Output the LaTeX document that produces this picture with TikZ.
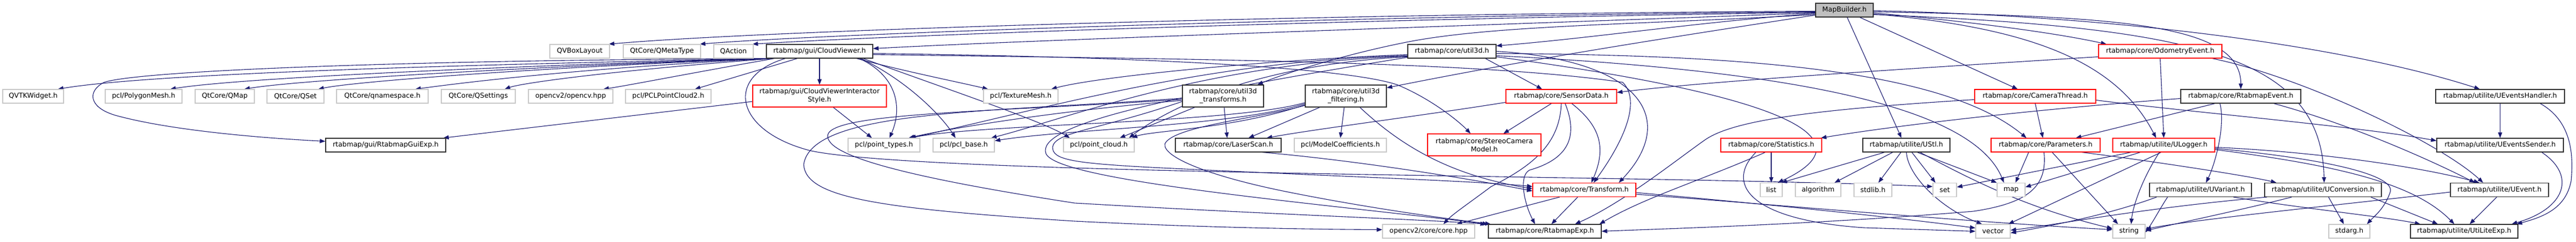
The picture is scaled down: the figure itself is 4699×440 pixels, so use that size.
\documentclass[tikz,border=0pt]{standalone}
\usepackage{fontspec}
\setmainfont{DejaVu Sans}
\usetikzlibrary{arrows.meta}
\definecolor{edgec}{HTML}{191970}
\definecolor{greyb}{HTML}{C8C8C8}
\definecolor{mbfill}{HTML}{BFBFBF}
\newcommand{\nfont}{\fontsize{12.4}{15}\selectfont}
\pgfdeclarelayer{bg}
\pgfsetlayers{bg,main}
\tikzset{
 box/.style={draw, fill=white, line width=1.2pt, minimum height=25pt, inner sep=0pt, text=black, font=\nfont, align=center},
 gbox/.style={box, draw=greyb},
 bbox/.style={box, draw=black!80},
 rbox/.style={box, draw=red},
 tall/.style={minimum height=40pt},
 e/.style={draw=edgec, line width=1.1pt, -{Triangle[length=10pt,width=7.5pt]}}
}
\begin{document}
\begin{tikzpicture}[x=1pt,y=-1pt]
\useasboundingbox (0,0) rectangle (4699,440);
% row 0
\node[bbox,fill=mbfill,minimum width=105pt] (mb) at (3364.5,18.5) {MapBuilder.h};
% row 1
\node[gbox,minimum width=109pt] (qvbox) at (1057.5,93.5) {QVBoxLayout};
\node[gbox,minimum width=141pt] (qmeta) at (1207.5,93.5) {QtCore/QMetaType};
\node[gbox,minimum width=72pt] (qaction) at (1338,93.5) {QAction};
\node[bbox,minimum width=194pt] (cv) at (1495,93.5) {rtabmap/gui/CloudViewer.h};
\node[bbox,minimum width=161pt] (u3d) at (2648.5,93.5) {rtabmap/core/util3d.h};
\node[rbox,minimum width=225pt] (odom) at (3940.5,93.5) {rtabmap/core/OdometryEvent.h};
% row 2
\node[gbox,minimum width=111pt] (qvtk) at (60.5,175.5) {QVTKWidget.h};
\node[gbox,minimum width=140pt] (poly) at (262,175.5) {pcl/PolygonMesh.h};
\node[gbox,minimum width=108pt] (qmap) at (410,175.5) {QtCore/QMap};
\node[gbox,minimum width=104pt] (qset) at (539,175.5) {QtCore/QSet};
\node[gbox,minimum width=167pt] (qns) at (697.5,175.5) {QtCore/qnamespace.h};
\node[gbox,minimum width=135pt] (qsettings) at (872.5,175.5) {QtCore/QSettings};
\node[gbox,minimum width=154pt] (opencv) at (1041,175.5) {opencv2/opencv.hpp};
\node[gbox,minimum width=156pt] (pclpc2) at (1219,175.5) {pcl/PCLPointCloud2.h};
\node[rbox,tall,minimum width=244pt] (cvis) at (1495,175) {rtabmap/gui/CloudViewerInteractor\\Style.h};
\node[gbox,minimum width=136pt] (tmesh) at (1862,175.5) {pcl/TextureMesh.h};
\node[bbox,tall,minimum width=148pt] (u3dt) at (2231,175) {rtabmap/core/util3d\\\_transforms.h};
\node[bbox,tall,minimum width=148pt] (u3df) at (2455,175) {rtabmap/core/util3d\\\_filtering.h};
\node[rbox,minimum width=202pt] (sensor) at (2848,175.5) {rtabmap/core/SensorData.h};
\node[rbox,minimum width=221pt] (camth) at (3712.5,175.5) {rtabmap/core/CameraThread.h};
\node[bbox,minimum width=219pt] (rtev) at (4087.5,175.5) {rtabmap/core/RtabmapEvent.h};
\node[bbox,minimum width=235pt] (uevh) at (4560.5,175.5) {rtabmap/utilite/UEventsHandler.h};
% row 3
\node[bbox,minimum width=219pt] (guiexp) at (703.5,264.5) {rtabmap/gui/RtabmapGuiExp.h};
\node[gbox,minimum width=131pt] (ptypes) at (1612.5,264.5) {pcl/point\_types.h};
\node[gbox,minimum width=112pt] (pclbase) at (1758,264.5) {pcl/pcl\_base.h};
\node[gbox,minimum width=129pt] (pcloud) at (2004.5,264.5) {pcl/point\_cloud.h};
\node[bbox,minimum width=193pt] (laser) at (2240.5,264.5) {rtabmap/core/LaserScan.h};
\node[gbox,minimum width=168pt] (modelc) at (2445,264.5) {pcl/ModelCoefficients.h};
\node[rbox,tall,minimum width=207pt] (stereo) at (2707.5,264) {rtabmap/core/StereoCamera\\Model.h};
\node[rbox,minimum width=184pt] (stats) at (3231,264.5) {rtabmap/core/Statistics.h};
\node[bbox,minimum width=159pt] (ustl) at (3477.5,264.5) {rtabmap/utilite/UStl.h};
\node[rbox,minimum width=199pt] (params) at (3731.5,264.5) {rtabmap/core/Parameters.h};
\node[rbox,minimum width=186pt] (ulog) at (3947,264.5) {rtabmap/utilite/ULogger.h};
\node[bbox,minimum width=231pt] (uevs) at (4560.5,264.5) {rtabmap/utilite/UEventsSender.h};
% row 4
\node[rbox,minimum width=188pt] (transform) at (2890,346) {rtabmap/core/Transform.h};
\node[gbox,minimum width=40pt] (list) at (3231,346) {list};
\node[gbox,minimum width=83pt] (algorithm) at (3316.5,346) {algorithm};
\node[gbox,minimum width=69pt] (stdlib) at (3416.5,346) {stdlib.h};
\node[gbox,minimum width=43pt] (set) at (3547.5,346) {set};
\node[gbox,minimum width=51pt] (map) at (3668.5,346) {map};
\node[bbox,minimum width=186pt] (uvar) at (4014,346) {rtabmap/utilite/UVariant.h};
\node[bbox,minimum width=213pt] (uconv) at (4237.5,346) {rtabmap/utilite/UConversion.h};
\node[bbox,minimum width=179pt] (uevent) at (4559.5,346) {rtabmap/utilite/UEvent.h};
% row 5
\node[gbox,minimum width=168pt] (cvcore) at (2606,421.5) {opencv2/core/core.hpp};
\node[bbox,minimum width=206pt] (rexp) at (2818,421.5) {rtabmap/core/RtabmapExp.h};
\node[gbox,minimum width=63pt] (vector) at (3635.5,421.5) {vector};
\node[gbox,minimum width=59pt] (string) at (3883.5,421.5) {string};
\node[gbox,minimum width=75pt] (stdarg) at (4285.5,421.5) {stdarg.h};
\node[bbox,minimum width=196pt] (utilexp) at (4495,421.5) {rtabmap/utilite/UtiLiteExp.h};

\begin{pgfonlayer}{bg}
% ---- MapBuilder edges
\draw[e] ([yshift=-2pt]mb.west) .. controls (2400,25) and (1400,55) .. ([xshift=-2pt]qvbox.north east);
\draw[e] ([yshift=-3pt]mb.west) .. controls (2400,30) and (1500,62) .. ([xshift=-2pt]qmeta.north east);
\draw[e] ([yshift=-4pt]mb.west) .. controls (2400,36) and (1600,66) .. ([xshift=-2pt]qaction.north east);
\draw[e] ([yshift=-5pt]mb.west) .. controls (2600,50) and (1900,72) .. ([yshift=5pt]cv.east);
\draw[e] ([yshift=-6pt]mb.west) .. controls (3100,40) and (2900,70) .. ([yshift=10pt]u3d.east);
\draw[e] ([yshift=-8pt]mb.west) .. controls (3000,45) and (2720,45) .. (2560,78) .. controls (2450,100) and (2340,135) .. ([xshift=-12pt]u3dt.north east);
\draw[e] ([yshift=-9pt]mb.west) .. controls (3000,75) and (2780,110) .. ([yshift=15pt]u3df.east);
\draw[e] ([xshift=5pt]mb.south) -- ([xshift=-9pt]ustl.north);
\draw[e] ([xshift=28pt]mb.south) -- ([xshift=-32pt]camth.north);
\draw[e] ([yshift=-5pt]mb.east) .. controls (3600,40) and (3750,60) .. ([xshift=15pt]odom.north west);
\draw[e] ([yshift=-3pt]mb.east) .. controls (3850,30) and (4088,40) .. (rtev.north);
\draw[e] ([yshift=-7pt]mb.east) .. controls (3700,50) and (3860,110) .. ([xshift=-14pt]ulog.north);
\draw[e] ([yshift=-8pt]mb.east) .. controls (4000,50) and (4235,100) .. ([xshift=2pt]uconv.north);
\draw[e] ([yshift=-1pt]mb.east) .. controls (3900,30) and (4300,90) .. ([xshift=-37pt]uevh.north);

% ---- CloudViewer edges
\draw[e] ([xshift=2pt]cv.south west) .. controls (1000,115) and (300,130) .. ([xshift=-11pt]qvtk.north east);
\draw[e] ([xshift=4pt]cv.south west) .. controls (1000,118) and (450,140) .. ([xshift=-22pt]poly.north east);
\draw[e] ([xshift=6pt]cv.south west) .. controls (1000,120) and (550,145) .. ([xshift=-19pt]qmap.north east);
\draw[e] ([xshift=8pt]cv.south west) .. controls (1000,122) and (650,148) .. ([xshift=-11pt]qset.north east);
\draw[e] ([xshift=10pt]cv.south west) .. controls (1050,125) and (850,150) .. ([xshift=-24pt]qns.north east);
\draw[e] ([xshift=12pt]cv.south west) .. controls (1100,130) and (950,152) .. ([xshift=-20pt]qsettings.north east);
\draw[e] ([xshift=15pt]cv.south west) .. controls (1250,135) and (1150,155) .. ([xshift=-18pt]opencv.north east);
\draw[e] ([xshift=57pt]cv.south west) -- ([xshift=-30pt]pclpc2.north east);
\draw[e] (cv.south) -- (cvis.north);
\draw[e] ([xshift=-30pt]cv.south east) .. controls (1650,130) and (1750,150) .. ([xshift=9pt]tmesh.north west);
\draw[e] ([xshift=-25pt]cv.south east) .. controls (1640,140) and (1645,200) .. ([xshift=10pt]ptypes.north);
\draw[e] ([xshift=-22pt]cv.south east) .. controls (1660,150) and (1720,215) .. ([xshift=-15pt]pclbase.north);
\draw[e] ([xshift=-18pt]cv.south east) .. controls (1720,160) and (1900,220) .. ([xshift=12pt]pcloud.north west);
\draw[e] ([xshift=1pt]cv.south west) .. controls (700,110) and (250,130) .. (190,150) .. controls (160,165) and (160,195) .. (210,210) .. controls (300,235) and (450,250) .. ([yshift=7pt]guiexp.west);
\draw[e] ([xshift=35pt]cv.south west) .. controls (1320,140) and (1340,240) .. (1480,275) .. controls (1700,320) and (3000,318) .. ([yshift=6pt]set.west);
\draw[e] ([yshift=-4pt]cv.east) .. controls (2200,105) and (2480,130) .. (2550,155) .. controls (2610,180) and (2660,220) .. ([xshift=-25pt]stereo.north);
\draw[e] ([yshift=-6pt]cv.east) .. controls (2200,108) and (2700,112) .. (2960,150) .. controls (2995,185) and (2960,260) .. ([xshift=17pt]transform.north);

% ---- CloudViewerInteractorStyle
\draw[e] ([yshift=-10pt]cvis.west) -- ([xshift=-5pt]guiexp.north east);
\draw[e] ([xshift=25pt]cvis.south) -- ([xshift=-22pt]ptypes.north);

% ---- util3d
\draw[e] ([yshift=-6pt]u3d.west) .. controls (2300,110) and (2000,140) .. ([xshift=-13pt]tmesh.north east);
\draw[e] ([yshift=-8pt]u3d.west) .. controls (2200,110) and (1900,200) .. ([xshift=48pt]ptypes.north);
\draw[e] ([yshift=-9pt]u3d.west) .. controls (2200,115) and (1950,215) .. ([xshift=50pt]pclbase.north);
\draw[e] ([yshift=-10pt]u3d.west) .. controls (2250,120) and (2100,220) .. ([xshift=55pt]pcloud.north);
\draw[e] ([xshift=-20pt]u3d.south east) -- ([xshift=-35pt]sensor.north);
\draw[e] (u3d.east) .. controls (3000,110) and (3060,220) .. ([xshift=63pt]transform.north);
\draw[e] ([yshift=-4pt]u3d.east) .. controls (3200,100) and (3550,130) .. ([xshift=-35pt]params.north);
\draw[e] ([yshift=-8pt]u3d.east) .. controls (3300,130) and (3600,200) .. ([xshift=-13pt]map.north);
\draw[e] ([yshift=-10pt]u3d.east) .. controls (3300,180) and (3400,260) .. ([xshift=12pt]list.north);
\draw[e] ([yshift=-11pt]u3d.west) .. controls (2100,180) and (1890,230) .. (1908,280) .. controls (1930,330) and (2400,370) .. (rexp.north west);

% ---- util3d_transforms
\draw[e] ([yshift=-8pt]u3dt.west) .. controls (1950,200) and (1750,230) .. ([xshift=45pt]ptypes.north);
\draw[e] ([xshift=23pt]u3dt.south west) -- ([xshift=38pt]pcloud.north);
\draw[e] ([xshift=2pt]u3dt.south) -- ([xshift=-2pt]laser.north);
\draw[e] ([yshift=-6pt]u3dt.west) .. controls (1800,205) and (1500,205) .. (1510,250) .. controls (1515,290) and (1700,330) .. (1960,370) .. controls (2300,390) and (2600,400) .. ([xshift=-4pt]rexp.north west);
\draw[e] ([yshift=-4pt]u3dt.west) .. controls (1800,205) and (1480,200) .. (1466,300) .. controls (1470,360) and (1600,380) .. (1960,403) .. controls (2200,415) and (2400,418) .. ([yshift=3pt]cvcore.west);
\draw[e] ([yshift=-10pt]u3dt.west) .. controls (2000,238) and (1925,240) .. (1920,268) .. controls (1920,290) and (1950,297) .. (2100,305) .. controls (2400,320) and (2700,330) .. ([yshift=6pt]transform.west);

% ---- util3d_filtering
\draw[e] ([yshift=-12pt]u3df.west) .. controls (2250,225) and (1800,225) .. ([xshift=47pt]ptypes.north);
\draw[e] ([yshift=-14pt]u3df.west) .. controls (2250,230) and (1950,235) .. ([yshift=8pt]pclbase.east);
\draw[e] ([yshift=-16pt]u3df.west) .. controls (2250,235) and (2100,238) .. ([xshift=60pt]pcloud.north);
\draw[e] ([xshift=27pt]u3df.south west) -- ([xshift=37pt]laser.north);
\draw[e] ([xshift=-3pt]u3df.south) -- (modelc.north);
\draw[e] ([xshift=-49pt]u3df.south east) .. controls (2560,270) and (2650,320) .. ([yshift=2pt]transform.west);
\draw[e] ([yshift=-17pt]u3df.west) .. controls (2300,215) and (2140,230) .. (2125,262) .. controls (2120,285) and (2200,320) .. (2350,350) .. controls (2500,380) and (2650,400) .. ([xshift=5pt]rexp.north west);

% ---- SensorData
\draw[e] ([xshift=-18pt]sensor.south) -- ([xshift=35pt]stereo.north);
\draw[e] ([yshift=-11pt]sensor.west) .. controls (2600,210) and (2400,235) .. ([xshift=70pt]laser.north);
\draw[e] ([xshift=19pt]sensor.south) .. controls (2920,230) and (2930,270) .. ([xshift=13pt]transform.north);
\draw[e] ([xshift=7pt]sensor.south) .. controls (2880,250) and (2860,290) .. (2790,310) .. controls (2770,320) and (2780,370) .. ([xshift=-18pt]rexp.north);
\draw[e] (sensor.south) .. controls (2845,260) and (2800,300) .. (2720,340) .. controls (2680,370) and (2650,390) .. ([xshift=27pt]cvcore.north);

% ---- LaserScan
\draw[e] ([xshift=-35pt]laser.south east) .. controls (2450,290) and (2650,320) .. ([yshift=-2pt]transform.west);

% ---- Transform
\draw[e] ([xshift=-12pt]transform.south) -- ([xshift=12pt]rexp.north);
\draw[e] ([xshift=-45pt]transform.south) -- ([xshift=51pt]cvcore.north);
\draw[e] ([yshift=-5pt]transform.east) .. controls (3200,370) and (3450,395) .. ([yshift=6pt]vector.west);
\draw[e] ([yshift=-8pt]transform.east) .. controls (3300,378) and (3600,405) .. ([yshift=3pt]string.west);

% ---- Statistics
\draw[e] (stats.south) -- (list.north);
\draw[e] ([xshift=-11pt]stats.south) .. controls (3100,330) and (3000,360) .. ([xshift=-4pt]rexp.north east);
\draw[e] ([xshift=-28pt]stats.south) .. controls (3150,330) and (3180,400) .. (3400,415) -- (vector.west);

% ---- Parameters
\draw[e] ([xshift=-31pt]params.south) -- ([xshift=8pt]map.north);
\draw[e] ([xshift=12pt]params.south) -- ([xshift=-20pt]string.north);
\draw[e] ([xshift=-3pt]params.south) .. controls (3735,340) and (3700,370) .. (3600,385) .. controls (3300,410) and (3000,418) .. (rexp.east);
\draw[e] ([xshift=-34pt]params.south east) .. controls (3900,290) and (4100,320) .. ([xshift=22pt]uconv.north west);

% ---- CameraThread
\draw[e] (camth.south) -- ([xshift=-5pt]params.north);
\draw[e] ([yshift=-6pt]camth.west) .. controls (3300,200) and (3160,220) .. (3110,255) .. controls (3060,290) and (2960,370) .. ([xshift=55pt]rexp.north);
\draw[e] ([yshift=-7pt]camth.east) .. controls (4000,205) and (4300,230) .. ([yshift=8pt]uevs.west);

% ---- OdometryEvent
\draw[e] ([yshift=-10pt]odom.west) .. controls (3400,130) and (3100,150) .. ([yshift=7pt]sensor.east);
\draw[e] (odom.south) -- (ulog.north);
\draw[e] ([xshift=-18pt]odom.south east) .. controls (4200,140) and (4450,260) .. ([xshift=-30pt]uevent.north);

% ---- RtabmapEvent
\draw[e] ([yshift=-4pt]rtev.west) .. controls (3700,200) and (3450,230) .. ([xshift=-2pt]stats.north east);
\draw[e] ([xshift=-47pt]rtev.south) -- ([xshift=55pt]params.north);
\draw[e] ([xshift=-38pt]rtev.south) .. controls (4060,230) and (4040,300) .. ([xshift=10pt]uvar.north);
\draw[e] ([xshift=-50pt]rtev.south east) .. controls (4300,230) and (4450,300) .. ([xshift=-45pt]uevent.north);

% ---- UEventsHandler / UEventsSender / UEvent
\draw[e] (uevh.south) -- (uevs.north);
\draw[e] ([xshift=-45pt]uevh.south east) .. controls (4690,220) and (4695,280) .. (4690,330) .. controls (4680,380) and (4640,395) .. ([xshift=-3pt]utilexp.north east);
\draw[e] ([xshift=-40pt]uevs.south east) .. controls (4700,320) and (4680,380) .. ([xshift=-12pt]utilexp.north east);
\draw[e] ([xshift=-5pt]uevent.south) -- ([xshift=10pt]utilexp.north);
\draw[e] ([yshift=-4pt]uevent.west) .. controls (4300,370) and (4000,400) .. ([yshift=4pt]string.east);

% ---- UConversion
\draw[e] ([xshift=50pt]uconv.south west) .. controls (4100,380) and (3980,405) .. ([yshift=1pt]string.east);
\draw[e] ([xshift=5pt]uconv.south west) .. controls (3900,380) and (3750,410) .. ([yshift=2pt]vector.east);
\draw[e] ([xshift=10pt]uconv.south) -- ([xshift=-10pt]stdarg.north);
\draw[e] ([xshift=-20pt]uconv.south east) -- ([xshift=-48pt]utilexp.north);

% ---- UVariant
\draw[e] ([xshift=-60pt]uvar.south) .. controls (3940,380) and (3930,400) .. ([yshift=-2pt]string.east);
\draw[e] ([xshift=-80pt]uvar.south) .. controls (3850,390) and (3750,410) .. ([yshift=-3pt]vector.east);
\draw[e] ([xshift=60pt]uvar.south) .. controls (4200,380) and (4350,395) .. ([xshift=-80pt]utilexp.north);

% ---- ULogger
\draw[e] ([xshift=-60pt]ulog.south) -- ([yshift=5pt]set.east);
\draw[e] ([xshift=-43pt]ulog.south) -- ([yshift=5pt]map.east);
\draw[e] ([xshift=-5pt]ulog.south) -- ([xshift=-4pt]vector.north east);
\draw[e] ([xshift=-8pt]ulog.south) .. controls (3905,330) and (3890,380) .. ([xshift=4pt]string.north);
\draw[e] ([yshift=-4pt]ulog.east) .. controls (4200,275) and (4400,300) .. ([xshift=-37pt]uevent.north);
\draw[e] ([yshift=-8pt]ulog.east) .. controls (4250,300) and (4400,330) .. ([xshift=-18pt]utilexp.north);
\draw[e] ([yshift=-6pt]ulog.east) .. controls (4250,290) and (4370,320) .. (4360,350) .. controls (4350,380) and (4330,395) .. ([xshift=-6pt]stdarg.north east);

% ---- UStl
\draw[e] ([xshift=-40pt]ustl.south) -- ([xshift=-2pt]list.north east);
\draw[e] ([xshift=-25pt]ustl.south) -- ([xshift=30pt]algorithm.north);
\draw[e] ([xshift=-10pt]ustl.south) -- ([xshift=10pt]stdlib.north);
\draw[e] ([xshift=10pt]ustl.south) -- ([xshift=-17pt]set.north);
\draw[e] ([xshift=20pt]ustl.south) -- (map.north west);
\draw[e] (ustl.south) .. controls (3480,320) and (3540,380) .. ([xshift=-20pt]vector.north);
\draw[e] ([xshift=25pt]ustl.south) .. controls (3600,330) and (3700,380) .. ([yshift=5pt]string.west);
\end{pgfonlayer}
\end{tikzpicture}
\end{document}
